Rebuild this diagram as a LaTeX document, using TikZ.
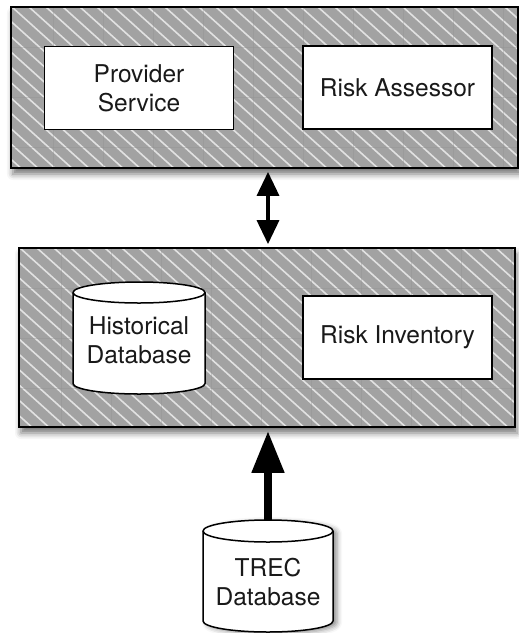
\documentclass[tikz,border=0pt]{standalone}
\usepackage{fontspec}
\setmainfont{TeX Gyre Heros}
\usetikzlibrary{arrows.meta,shadows.blur}

\definecolor{hatchgrey}{HTML}{A2A2A2}
\definecolor{stripe}{HTML}{E2E2E2}
\definecolor{gridgrey}{HTML}{909090}

\tikzset{
  lbl/.style={font=\fontsize{24.5}{29}\selectfont, align=center, text=black!90},
  panel/.style={draw=black, line width=1.8pt, fill=hatchgrey, inner sep=0pt,
    blur shadow={shadow xshift=2pt, shadow yshift=-6pt, shadow blur radius=6pt, shadow opacity=55},
    path picture={
      \foreach \k in {0,...,48}
        \draw[stripe, line width=1.6pt]
          ([xshift=\k*17pt-220pt]path picture bounding box.north west) -- ++(222pt,-200pt);
      \foreach \k in {1,...,10}
        \draw[gridgrey, line width=0.4pt, opacity=0.35]
          ([xshift=\k*50pt-8pt]path picture bounding box.north west) -- ++(0,-200pt);
      \foreach \k in {1,...,4}
        \draw[gridgrey, line width=0.4pt, opacity=0.35]
          ([yshift=-\k*50pt+10pt]path picture bounding box.north west) -- ++(520pt,0);
    }},
  unit/.style={lbl, draw=black, line width=1.6pt, fill=white, inner sep=0pt,
    minimum width=189pt, minimum height=83pt},
  cylline/.style={draw=black, line width=1.5pt},
  dblarrow/.style={line width=3.5pt,
    {Triangle[length=24pt,width=22pt,fill=black]}-{Triangle[length=24pt,width=22pt,fill=black]},
    shorten >=3pt, shorten <=3pt},
  feedarrow/.style={line width=8pt, -{Triangle[length=42pt,width=31pt,fill=black]}, shorten >=3pt}
}

\begin{document}
\begin{tikzpicture}[x=1pt,y=1pt]
\useasboundingbox (0,0) rectangle (519,-633);

% service layer
\node[panel, minimum width=507pt, minimum height=161pt] (toplayer) at (264.5,-87.5) {};
\node[unit] (provider) at (139,-88) {Provider\\Service};
\node[unit] (assessor) at (397.5,-87.5) {Risk Assessor};

% data layer
\node[panel, minimum width=496pt, minimum height=179pt] (datalayer) at (267,-337.5) {};
\node[unit] (inventory) at (397.5,-337.5) {Risk Inventory};

% historical database cylinder
\draw[cylline, fill=white] (73,-292.5) -- (73,-383.5)
  arc[start angle=180, end angle=360, x radius=66pt, y radius=10.5pt]
  -- (205,-292.5)
  arc[start angle=0, end angle=180, x radius=66pt, y radius=10.5pt] -- cycle;
\draw[cylline] (73,-292.5) arc[start angle=180, end angle=360, x radius=66pt, y radius=10.5pt];
\node[lbl, minimum width=132pt, minimum height=112pt, inner sep=0pt] (historical) at (139,-340) {Historical\\Database};

% TREC database cylinder
\draw[cylline, fill=white,
  blur shadow={shadow xshift=4pt, shadow yshift=-2pt, shadow blur radius=5pt, shadow opacity=45}]
  (203,-531) -- (203,-621)
  arc[start angle=180, end angle=360, x radius=65pt, y radius=11pt]
  -- (333,-531)
  arc[start angle=0, end angle=180, x radius=65pt, y radius=11pt] -- cycle;
\draw[cylline] (203,-531) arc[start angle=180, end angle=360, x radius=65pt, y radius=11pt];
\node[minimum width=130pt, minimum height=112pt, inner sep=0pt] (trec) at (268,-576) {};
\node[lbl] (treclabel) at (268,-582) {TREC\\Database};

% connectors
\coordinate (axis) at (268,0);
\draw[dblarrow] (toplayer.south -| axis) -- (datalayer.north -| axis);
\draw[feedarrow] (trec.north) -- (datalayer.south -| trec.north);
\end{tikzpicture}
\end{document}
